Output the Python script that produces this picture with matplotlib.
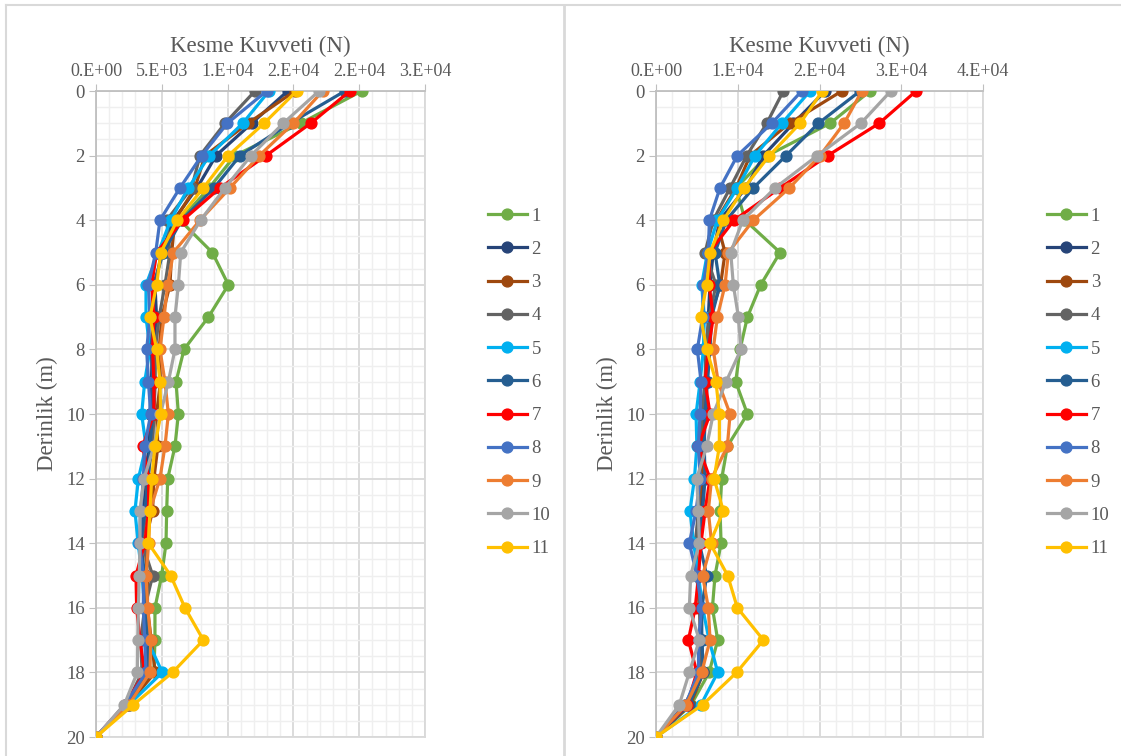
import math
import matplotlib
matplotlib.use("Agg")
import matplotlib.pyplot as plt
from matplotlib.ticker import FuncFormatter, MultipleLocator
from matplotlib.lines import Line2D

plt.rcParams['font.family'] = ['Liberation Serif', 'DejaVu Serif']

depths = list(range(21))
series_names = ["1", "2", "3", "4", "5", "6", "7", "8", "9", "10", "11"]
colors = ["#70AD47", "#264478", "#9E480E", "#636363", "#00B0F0", "#255E91",
          "#FF0000", "#4472C4", "#ED7D31", "#A5A5A5", "#FFC000"]

# left chart, shear force (N) per depth 0..20
left_1 = [20190, 15550, 10560, 8600, 6380, 8840, 10060, 8540, 6690, 6080, 6260, 6000, 5450, 5370, 5320, 4990, 4480, 4480, 4400, 2500, 0]
left_2 = [14570, 11830, 9120, 7680, 5880, 4990, 4480, 4600, 4300, 4200, 4100, 4000, 3800, 3600, 3400, 3600, 3800, 3900, 3900, 2300, 0]
left_3 = [15120, 11550, 8280, 7520, 6000, 5750, 5620, 5000, 4800, 4900, 4600, 4700, 4400, 4300, 3700, 3900, 3900, 4200, 4500, 2400, 0]
left_4 = [12080, 9800, 7900, 7270, 5370, 5620, 5240, 4800, 4500, 4500, 4400, 4300, 3900, 3800, 3500, 4310, 3700, 3400, 3500, 2300, 0]
left_5 = [13150, 11150, 8610, 7020, 5670, 4730, 3800, 3800, 4100, 3700, 3470, 3800, 3220, 2960, 3200, 3500, 3700, 3900, 5040, 2500, 0]
left_6 = [18920, 14740, 10940, 8970, 6510, 5120, 4360, 4300, 4200, 4300, 4300, 4100, 4000, 3700, 3400, 3700, 3800, 3900, 4000, 2400, 0]
left_7 = [19300, 16310, 12920, 9420, 6590, 4610, 4230, 4400, 4300, 4400, 4400, 3550, 4000, 4000, 3700, 3040, 3090, 3340, 3700, 2200, 0]
left_8 = [12970, 9980, 8030, 6380, 4860, 4540, 3980, 4100, 3850, 3980, 4160, 3700, 3600, 3400, 3300, 3600, 3600, 3700, 3800, 2200, 0]
left_9 = [17230, 15000, 12410, 10180, 7900, 5880, 5450, 5170, 4860, 5240, 5500, 5240, 4860, 4100, 4000, 3800, 3930, 4160, 4100, 2500, 0]
left_10 = [16950, 14230, 11780, 9800, 7950, 6440, 6260, 6000, 6000, 5500, 4900, 4400, 3650, 3340, 3340, 3290, 3220, 3170, 3140, 2150, 0]
left_11 = [15250, 12770, 10050, 8160, 6180, 4920, 4610, 4100, 4610, 4860, 4920, 4480, 4230, 4100, 3980, 5670, 6760, 8160, 5820, 2840, 0]

# right chart
right_1 = [26190, 21300, 13630, 9800, 10890, 15180, 12810, 11180, 10280, 9750, 11180, 8730, 8040, 7830, 7960, 7220, 6900, 7550, 6500, 4300, 0]
right_2 = [20690, 16810, 13140, 11000, 7800, 7000, 6600, 6400, 6300, 6000, 6200, 5500, 5700, 5500, 4800, 5200, 5400, 5600, 5800, 4000, 0]
right_3 = [22730, 16320, 11510, 9800, 7400, 8450, 7900, 6600, 6000, 6200, 5800, 5600, 5600, 5200, 5000, 5000, 5400, 5400, 5800, 4200, 0]
right_4 = [15580, 13550, 11100, 9060, 7010, 6000, 7340, 6500, 6100, 6000, 5600, 5400, 5300, 5200, 4800, 5000, 5300, 5500, 5600, 3500, 0]
right_5 = [18850, 15390, 12120, 9950, 7500, 6300, 5590, 5900, 5800, 5400, 4900, 5000, 4700, 4160, 4600, 5200, 5700, 6500, 7550, 5500, 0]
right_6 = [24970, 19870, 15910, 11910, 8600, 7220, 7800, 6800, 6600, 6300, 6000, 5900, 6000, 5700, 5300, 6200, 5600, 5600, 5800, 4000, 0]
right_7 = [31820, 27300, 21010, 15180, 9550, 6500, 6500, 7010, 6400, 6000, 6610, 5180, 6610, 6000, 5500, 5200, 4800, 3960, 5000, 3800, 0]
right_8 = [17830, 14160, 9950, 7830, 6530, 6400, 5800, 5700, 5060, 5510, 5390, 5180, 5400, 4900, 4080, 5000, 5600, 5200, 5200, 3600, 0]
right_9 = [25180, 23010, 20070, 16320, 11910, 8850, 8450, 7500, 7000, 7600, 9060, 8730, 6800, 6400, 6800, 5700, 6400, 6610, 5590, 3700, 0]
right_10 = [28730, 25060, 19740, 14570, 10610, 9140, 9460, 10080, 10400, 8570, 7000, 6200, 4980, 5180, 5300, 4240, 4080, 5300, 4080, 2850, 0]
right_11 = [20360, 17630, 13870, 10770, 8240, 6610, 6200, 5470, 6200, 7340, 7750, 7750, 7100, 8240, 6610, 8770, 9950, 13140, 9870, 5710, 0]

left_data = [left_1, left_2, left_3, left_4, left_5, left_6, left_7, left_8, left_9, left_10, left_11]
right_data = [right_1, right_2, right_3, right_4, right_5, right_6, right_7, right_8, right_9, right_10, right_11]

txt = "#595959"
grid_major = "#d9d9d9"
grid_minor = "#efefef"


def excel_sci(v, pos=None):
    # mimic Excel "0.E+00" (round half up)
    if v == 0:
        return "0.E+00"
    e = int(math.floor(math.log10(abs(v))))
    m = int(abs(v) / 10 ** e + 0.5)
    if m == 10:
        m, e = 1, e + 1
    return f"{m}.E+{e:02d}"


def draw_panel(fig, rect, data, xmax, xmajor, xminor, legend_x):
    ax = fig.add_axes(rect)
    for vals, c, name in zip(data, colors, series_names):
        ax.plot(vals, depths, color=c, lw=2.3, marker="o", ms=7.8,
                label=name, zorder=3)
    ax.set_xlim(0, xmax)
    ax.set_ylim(20, 0)
    ax.xaxis.tick_top()
    ax.xaxis.set_label_position("top")
    ax.xaxis.set_major_locator(MultipleLocator(xmajor))
    ax.xaxis.set_minor_locator(MultipleLocator(xminor))
    ax.yaxis.set_major_locator(MultipleLocator(2))
    ax.yaxis.set_minor_locator(MultipleLocator(0.5))
    ax.xaxis.set_major_formatter(FuncFormatter(excel_sci))
    ax.grid(which="major", color=grid_major, lw=1.3, zorder=1)
    ax.grid(which="minor", color=grid_minor, lw=1.0, zorder=0)
    ax.set_axisbelow(True)
    for s in ["right", "bottom"]:
        ax.spines[s].set_color(grid_major)
        ax.spines[s].set_linewidth(1.3)
    for s in ["left", "top"]:
        ax.spines[s].set_color("#bfbfbf")
        ax.spines[s].set_linewidth(1.3)
    ax.tick_params(which="major", direction="out", length=5, color="#bfbfbf",
                   labelcolor=txt, labelsize=13, pad=3)
    ax.tick_params(axis="y", which="major", labelsize=13.5)
    ax.tick_params(which="minor", length=0)
    ax.set_xlabel("Kesme Kuvveti (N)", color=txt, fontsize=16.5, labelpad=8)
    ax.set_ylabel("Derinlik (m)", color=txt, fontsize=16.5, labelpad=6)
    handles = [Line2D([0], [0], color=c, lw=2.3, marker="o", ms=7.8)
               for c in colors]
    fig.legend(handles, series_names, loc="upper left",
               bbox_to_anchor=(legend_x, 1 - 200 / 756), frameon=False,
               fontsize=13.5, labelcolor=txt, handlelength=2.1,
               handletextpad=0.25, labelspacing=0.86, borderaxespad=0)
    return ax


W, H = 1121, 756
fig = plt.figure(figsize=(W / 100, H / 100), dpi=100)

draw_panel(fig, [96 / W, 1 - 737 / H, 329 / W, 646 / H], left_data,
           25000, 5000, 1000, 480 / W)
draw_panel(fig, [656 / W, 1 - 737 / H, 327 / W, 646 / H], right_data,
           40000, 10000, 2000, 1039 / W)

# chart area borders
border = "#d9d9d9"
fig.add_artist(Line2D([6 / W, 6 / W], [0, 1 - 5 / H], color=border, lw=1.5))
fig.add_artist(Line2D([6 / W, 1], [1 - 5 / H, 1 - 5 / H], color=border, lw=1.5))
fig.add_artist(Line2D([564 / W, 564 / W], [0, 1 - 5 / H], color=border, lw=2))

fig.savefig("out.png", dpi=100, facecolor="white")
